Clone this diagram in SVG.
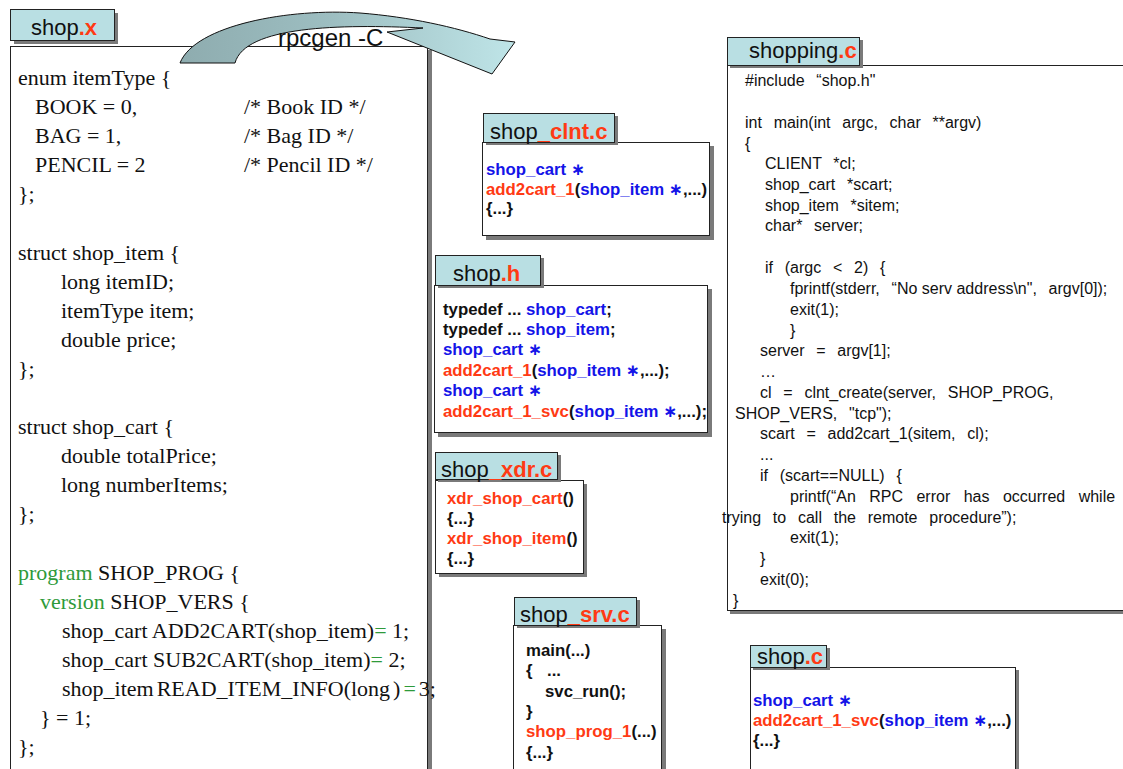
<svg xmlns="http://www.w3.org/2000/svg" width="1123" height="769" viewBox="0 0 1123 769">
  <defs>
    <linearGradient id="bandFill" gradientUnits="userSpaceOnUse" x1="180" y1="0" x2="515" y2="0">
      <stop offset="0" stop-color="#8eacaf"/>
      <stop offset="0.45" stop-color="#9dbec1"/>
      <stop offset="1" stop-color="#bfe5e8"/>
    </linearGradient>
    <style>
      .tab { fill: #b9dfe3; stroke: #222; stroke-width: 1; }
      .box { fill: #fff; stroke: #222; stroke-width: 1; }
      .sh { fill: #7a7a7a; }
      .lbl { font-family: "Liberation Sans", Arial, sans-serif; font-size: 22px; fill: #111; }
      .red { fill: #ff3a14; font-weight: bold; }
      .code { font-family: "Liberation Sans", Arial, sans-serif; font-size: 16.8px; font-weight: bold; fill: #111; }
      .blu { fill: #1414e8; }
      .xdr { font-family: "Liberation Serif", "Times New Roman", serif; font-size: 22px; fill: #111; }
      .kw { fill: #2e9a3a; }
      .src { font-family: "Liberation Sans", Arial, sans-serif; font-size: 16px; fill: #111; word-spacing: 7.3px; }
      .ast { font-family: "DejaVu Sans", "Liberation Sans", sans-serif; }
    </style>
  </defs>

  <!-- interface definition: shop.x -->
  <g id="shop-x">
    <rect class="sh" x="14" y="50" width="418" height="730"/>
    <rect class="box" x="10.5" y="46.5" width="417" height="730"/>
    <rect class="sh" x="14" y="13" width="104" height="31"/>
    <rect class="tab" x="10.5" y="9.5" width="104" height="31"/>
    <text class="lbl" x="31" y="35">shop<tspan class="red">.x</tspan></text>
    <g class="xdr">
      <text x="18" y="85">enum itemType {</text>
      <text x="35" y="114">BOOK = 0,</text><text x="244" y="114">/* Book ID */</text>
      <text x="35" y="143">BAG = 1,</text><text x="244" y="143">/* Bag ID */</text>
      <text x="35" y="172">PENCIL = 2</text><text x="244" y="172">/* Pencil ID */</text>
      <text x="18" y="201">};</text>
      <text x="18" y="260">struct shop_item {</text>
      <text x="61" y="289">long itemID;</text>
      <text x="61" y="318">itemType item;</text>
      <text x="61" y="347">double price;</text>
      <text x="18" y="376">};</text>
      <text x="18" y="434">struct shop_cart {</text>
      <text x="61" y="463">double totalPrice;</text>
      <text x="61" y="492">long numberItems;</text>
      <text x="18" y="521">};</text>
      <text x="18" y="580"><tspan class="kw">program</tspan> SHOP_PROG {</text>
      <text x="40" y="609"><tspan class="kw">version</tspan> SHOP_VERS {</text>
      <text x="62" y="638">shop_cart ADD2CART(shop_item)<tspan class="kw">=</tspan> 1;</text>
      <text x="62" y="667">shop_cart SUB2CART(shop_item)<tspan class="kw">=</tspan> 2;</text>
      <text x="62" y="696" style="word-spacing:-2.5px">shop_item READ_ITEM_INFO(long ) <tspan class="kw">=</tspan> 3;</text>
      <text x="40" y="725">} = 1;</text>
      <text x="18" y="754">};</text>
    </g>
  </g>

  <!-- rpcgen step: curved block arrow -->
  <g id="connectors">
    <path d="M180,63 C195,25 290,8 360,13 C410,17 455,27 490,39 L515,42 L492,74 L387,32 L423,28 C340,24 245,26 235,63 Z" fill="url(#bandFill)" stroke="#111" stroke-width="1" stroke-linejoin="miter"/>
    <text class="lbl" x="278" y="46" style="font-size:24px">rpcgen -C</text>
  </g>

  <!-- client stub -->
  <g id="shop-clnt-c">
    <rect class="sh" x="486" y="146" width="228" height="94"/>
    <rect class="box" x="482.5" y="142.5" width="227" height="93"/>
    <rect class="sh" x="486" y="116" width="132" height="29"/>
    <rect class="tab" x="483.5" y="113.5" width="131" height="29"/>
    <text class="lbl" x="490" y="139">shop<tspan class="red">_clnt.c</tspan></text>
    <g class="code">
      <text x="486" y="175"><tspan class="blu">shop_cart <tspan class="ast">∗</tspan></tspan></text>
      <text x="486" y="195"><tspan class="red">add2cart_1</tspan>(<tspan class="blu">shop_item <tspan class="ast">∗</tspan></tspan>,...)</text>
      <text x="486" y="214">{...}</text>
    </g>
  </g>

  <!-- generated header -->
  <g id="shop-h">
    <rect class="sh" x="438" y="289" width="274" height="148"/>
    <rect class="box" x="434.5" y="285.5" width="273" height="147"/>
    <rect class="sh" x="438" y="258" width="106" height="30"/>
    <rect class="tab" x="435.5" y="255.5" width="105" height="30"/>
    <text class="lbl" x="453" y="281">shop<tspan class="red">.h</tspan></text>
    <g class="code">
      <text x="443" y="315">typedef ... <tspan class="blu">shop_cart</tspan>;</text>
      <text x="443" y="335">typedef ... <tspan class="blu">shop_item</tspan>;</text>
      <text x="443" y="355"><tspan class="blu">shop_cart <tspan class="ast">∗</tspan></tspan></text>
      <text x="443" y="376"><tspan class="red">add2cart_1</tspan>(<tspan class="blu">shop_item <tspan class="ast">∗</tspan></tspan>,...);</text>
      <text x="443" y="396"><tspan class="blu">shop_cart <tspan class="ast">∗</tspan></tspan></text>
      <text x="443" y="417"><tspan class="red">add2cart_1_svc</tspan>(<tspan class="blu">shop_item <tspan class="ast">∗</tspan></tspan>,...);</text>
    </g>
  </g>

  <!-- XDR filters -->
  <g id="shop-xdr-c">
    <rect class="sh" x="439" y="484" width="148" height="93"/>
    <rect class="box" x="435.5" y="480.5" width="148" height="93"/>
    <rect class="sh" x="438" y="455" width="123" height="27"/>
    <rect class="tab" x="435.5" y="452.5" width="122" height="27"/>
    <text class="lbl" x="441" y="477">shop<tspan class="red">_xdr.c</tspan></text>
    <g class="code">
      <text x="447" y="504"><tspan class="red">xdr_shop_cart</tspan>()</text>
      <text x="447" y="524">{...}</text>
      <text x="447" y="544"><tspan class="red">xdr_shop_item</tspan>()</text>
      <text x="447" y="564">{...}</text>
    </g>
  </g>

  <!-- server stub -->
  <g id="shop-srv-c">
    <rect class="sh" x="517" y="629" width="149" height="150"/>
    <rect class="box" x="513.5" y="625.5" width="148" height="150"/>
    <rect class="sh" x="517" y="600" width="123" height="28"/>
    <rect class="tab" x="514.5" y="597.5" width="122" height="28"/>
    <text class="lbl" x="520" y="622">shop<tspan class="red">_srv.c</tspan></text>
    <g class="code">
      <text x="526" y="656">main(...)</text>
      <text x="526" y="676">{</text><text x="547" y="676">...</text>
      <text x="545" y="697">svc_run();</text>
      <text x="526" y="717">}</text>
      <text x="526" y="737"><tspan class="red">shop_prog_1</tspan>(...)</text>
      <text x="526" y="758">{...}</text>
    </g>
  </g>

  <!-- client program -->
  <g id="shopping-c">
    <rect class="sh" x="730" y="68" width="400" height="546"/>
    <rect class="box" x="727.5" y="65.5" width="400" height="545"/>
    <rect class="sh" x="730" y="40" width="133" height="28"/>
    <rect class="tab" x="727.5" y="37.5" width="132" height="28"/>
    <text class="lbl" x="749" y="58">shopping<tspan class="red">.c</tspan></text>
    <g class="src">
      <text x="745" y="86">#include “shop.h"</text>
      <text x="745" y="128">int main(int argc, char **argv)</text>
      <text x="745" y="149">{</text>
      <text x="765" y="169">CLIENT *cl;</text>
      <text x="765" y="190">shop_cart *scart;</text>
      <text x="765" y="211">shop_item *sitem;</text>
      <text x="765" y="231">char* server;</text>
      <text x="765" y="273">if (argc &lt; 2) {</text>
      <text x="790" y="294">fprintf(stderr, <tspan style="word-spacing:0">“No serv address\n",</tspan> argv[0]);</text>
      <text x="790" y="315">exit(1);</text>
      <text x="790" y="336">}</text>
      <text x="760" y="356">server = argv[1];</text>
      <text x="760" y="377">…</text>
      <text x="760" y="398">cl = clnt_create(server, SHOP_PROG,</text>
      <text x="735" y="419">SHOP_VERS, "tcp");</text>
      <text x="760" y="439">scart = add2cart_1(sitem, cl);</text>
      <text x="760" y="460">...</text>
      <text x="760" y="481">if (scart==NULL) {</text>
      <text x="790" y="502" style="word-spacing:9px">printf(“An RPC error has occurred while</text>
      <text x="722" y="523">trying to call the remote procedure”);</text>
      <text x="790" y="543">exit(1);</text>
      <text x="760" y="564">}</text>
      <text x="760" y="585">exit(0);</text>
      <text x="733" y="606">}</text>
    </g>
  </g>

  <!-- server procedures -->
  <g id="shop-c">
    <rect class="sh" x="754" y="670" width="265" height="110"/>
    <rect class="box" x="750.5" y="667.5" width="265" height="110"/>
    <rect class="sh" x="753" y="648" width="77" height="22"/>
    <rect class="tab" x="750.5" y="645.5" width="76" height="22"/>
    <text class="lbl" x="757" y="664">shop<tspan class="red">.c</tspan></text>
    <g class="code">
      <text x="753" y="706"><tspan class="blu">shop_cart <tspan class="ast">∗</tspan></tspan></text>
      <text x="753" y="726"><tspan class="red">add2cart_1_svc</tspan>(<tspan class="blu">shop_item <tspan class="ast">∗</tspan></tspan>,...)</text>
      <text x="753" y="746">{...}</text>
    </g>
  </g>
</svg>
